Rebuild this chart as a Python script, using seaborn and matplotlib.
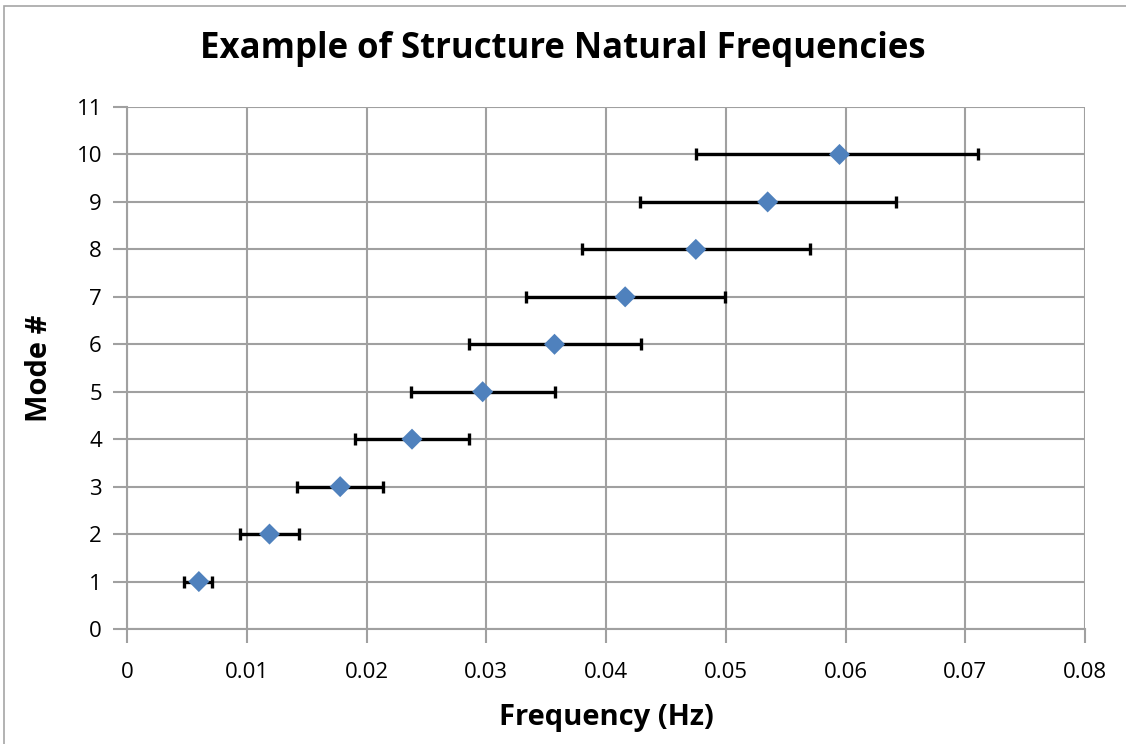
import numpy as np
import pandas as pd
import matplotlib
matplotlib.use("Agg")
import matplotlib.pyplot as plt
import seaborn as sns
from matplotlib.patches import Rectangle

# --------------------------------------------------
# Data
# --------------------------------------------------

modes = [1, 2, 3, 4, 5, 6, 7, 8, 9, 10]
freq = [0.0060, 0.0119, 0.0178, 0.0238, 0.0297, 0.0357, 0.0416, 0.0475, 0.0535, 0.0595]
freq_low = [0.0048, 0.0094, 0.0142, 0.0190, 0.0237, 0.0286, 0.0333, 0.0380, 0.0428, 0.0475]
freq_high = [0.0071, 0.0144, 0.0214, 0.0286, 0.0357, 0.0429, 0.0499, 0.0570, 0.0642, 0.0711]

x_ticks = [0, 0.01, 0.02, 0.03, 0.04, 0.05, 0.06, 0.07, 0.08]
x_labels = ["0", "0.01", "0.02", "0.03", "0.04", "0.05", "0.06", "0.07", "0.08"]
y_ticks = list(range(0, 12))

df = pd.DataFrame({
    "mode": modes,
    "freq": freq,
    "low": freq_low,
    "high": freq_high
})

sns.set_style("white")
plt.rcParams["font.family"] = ["Open Sans", "DejaVu Sans"]
plt.rcParams["text.color"] = "black"

fig = plt.figure(figsize=(11.26, 7.44), dpi=100)
ax = fig.add_axes([127 / 1126, 1 - 629 / 744, (1085 - 127) / 1126, (629 - 107) / 744])

# outer chart border
fig.patches.append(Rectangle(
    (4 / 1126, -0.01), 1.2, 1 - 6 / 744 + 0.01,
    transform=fig.transFigure, fill=False,
    edgecolor="#a6a6a6", linewidth=1.2
))

# --------------------------------------------------
# Error bars + markers
# --------------------------------------------------

xerr = np.vstack([
    df["freq"] - df["low"],
    df["high"] - df["freq"]
])

ax.errorbar(
    df["freq"], df["mode"],
    xerr=xerr,
    fmt="none",
    ecolor="black",
    elinewidth=2.4,
    capsize=4.5,
    capthick=2.4,
    zorder=3
)

sns.scatterplot(
    data=df, x="freq", y="mode",
    marker="D", s=115,
    color="#4f81bd", edgecolor="none",
    ax=ax, zorder=4, legend=False
)

# --------------------------------------------------
# Axes styling
# --------------------------------------------------

ax.set_xlim(0, 0.08)
ax.set_ylim(0, 11)
ax.set_xticks(x_ticks)
ax.set_xticklabels(x_labels)
ax.set_yticks(y_ticks)

ax.grid(True, color="#a0a0a0", linewidth=1.5)
ax.set_axisbelow(True)

for side in ["top", "right"]:
    ax.spines[side].set_visible(False)
for side in ["left", "bottom"]:
    ax.spines[side].set_color("#a0a0a0")
    ax.spines[side].set_linewidth(1.5)

ax.tick_params(
    axis="both", which="major",
    length=10, width=1.5, color="#a0a0a0",
    labelsize=16, labelcolor="black",
    direction="out", bottom=True, left=True
)
ax.tick_params(axis="x", pad=14)
ax.tick_params(axis="y", pad=8)

ax.set_xlabel("Frequency (Hz)", fontsize=21, fontweight="bold",
              labelpad=14, color="black")
ax.set_ylabel("Mode #", fontsize=21, fontweight="bold",
              labelpad=16, color="black")

fig.suptitle(
    "Example of Structure Natural Frequencies",
    fontsize=25, fontweight="bold", y=1 - 49 / 744, va="center",
    color="black"
)

fig.savefig("out.png", dpi=100, facecolor="white")
plt.close(fig)
